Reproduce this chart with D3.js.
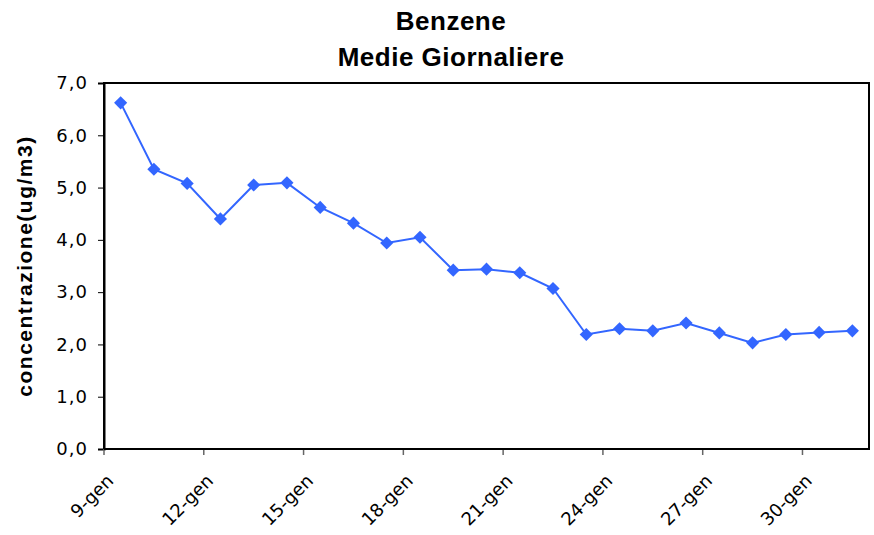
<!DOCTYPE html>
<html>
<head>
<meta charset="utf-8">
<script src="https://cdn.jsdelivr.net/npm/d3@7"></script>
<style>
  body { margin: 0; background: #fff; }
</style>
</head>
<body>
<div id="chart"></div>
<script>
(function() {
	var width = 874, height = 535;

	// giorni (9-gen ... 31-gen) e medie giornaliere di benzene
	var days = ["9-gen","10-gen","11-gen","12-gen","13-gen","14-gen","15-gen","16-gen",
		"17-gen","18-gen","19-gen","20-gen","21-gen","22-gen","23-gen","24-gen",
		"25-gen","26-gen","27-gen","28-gen","29-gen","30-gen","31-gen"];
	var values = [6.62, 5.35, 5.08, 4.40, 5.05, 5.09, 4.62, 4.32, 3.94, 4.05, 3.42, 3.44,
		3.37, 3.07, 2.19, 2.30, 2.26, 2.41, 2.22, 2.03, 2.19, 2.23, 2.26];
	var yTicks = [0, 1, 2, 3, 4, 5, 6, 7];
	var shownLabels = ["9-gen","12-gen","15-gen","18-gen","21-gen","24-gen","27-gen","30-gen"];

	var margin = {left: 104, top: 83, right: 5, bottom: 86};
	var plotW = width - margin.left - margin.right,
		plotH = height - margin.top - margin.bottom;

	var svg = d3.select("#chart")
		.append("svg")
		.attr("width", width)
		.attr("height", height)

	var g = svg.append("g")
		.attr("transform", "translate(" + margin.left + "," + margin.top + ")")

	var x = d3.scaleBand().domain(days).range([0, plotW])
	var y = d3.scaleLinear().domain([0, 7]).range([plotH, 0])

	var fmt = function(d) { return d3.format(".1f")(d).replace(".", ","); }

	// plot border
	g.append("rect")
		.attr("width", plotW)
		.attr("height", plotH)
		.attr("fill", "#fff")
		.attr("stroke", "#000")
		.attr("stroke-width", 2)

	// y axis
	var yAxis = g.append("g")
		.call(d3.axisLeft(y).tickValues(yTicks).tickFormat(fmt).tickSize(6).tickPadding(10))
	yAxis.select(".domain").attr("stroke", "#000").attr("stroke-width", 2)
	yAxis.selectAll(".tick line").attr("stroke", "#000")
	yAxis.selectAll("text")
		.attr("font-family", "DejaVu Sans, Verdana, sans-serif")
		.attr("font-size", 18)
		.attr("letter-spacing", 1)
		.attr("fill", "#000")

	// x axis: tick marks between categories every 3 days
	var boundaries = days.filter(function(d, i) { return i % 3 === 0; })
	var xg = g.append("g").attr("transform", "translate(0," + plotH + ")")
	xg.selectAll("line.tk")
		.data(boundaries)
		.enter().append("line")
		.attr("class", "tk")
		.attr("x1", function(d) { return x(d); })
		.attr("x2", function(d) { return x(d); })
		.attr("y1", 0)
		.attr("y2", 6)
		.attr("stroke", "#666")
		.attr("stroke-width", 1.5)
	xg.append("line")
		.attr("x1", 0).attr("x2", plotW)
		.attr("stroke", "#000").attr("stroke-width", 2)

	xg.selectAll("text.lbl")
		.data(shownLabels)
		.enter().append("text")
		.attr("class", "lbl")
		.attr("transform", function(d) {
			return "translate(" + (x(d) + x.bandwidth() / 2 - 6) + ",33) rotate(-45)";
		})
		.attr("text-anchor", "end")
		.attr("font-family", "DejaVu Sans, Verdana, sans-serif")
		.attr("font-size", 18)
		.attr("fill", "#000")
		.text(function(d) { return d; })

	// series line
	var line = d3.line()
		.x(function(d, i) { return x(days[i]) + x.bandwidth() / 2; })
		.y(function(d) { return y(d); })

	g.append("path")
		.datum(values)
		.attr("fill", "none")
		.attr("stroke", "#3366ff")
		.attr("stroke-width", 2)
		.attr("d", line)

	g.selectAll(".marker")
		.data(values)
		.enter().append("path")
		.attr("class", "marker")
		.attr("d", d3.symbol().type(d3.symbolDiamond2).size(110))
		.attr("transform", function(d, i) {
			return "translate(" + (x(days[i]) + x.bandwidth() / 2) + "," + y(d) + ")";
		})
		.attr("fill", "#3366ff")

	// titles
	svg.append("text")
		.attr("x", 451).attr("y", 30)
		.attr("text-anchor", "middle")
		.attr("font-family", "Liberation Sans, Arial, sans-serif")
		.attr("font-weight", "bold")
		.attr("font-size", 26)
		.attr("letter-spacing", 0.5)
		.text("Benzene")
	svg.append("text")
		.attr("x", 451).attr("y", 66)
		.attr("text-anchor", "middle")
		.attr("font-family", "Liberation Sans, Arial, sans-serif")
		.attr("font-weight", "bold")
		.attr("font-size", 26)
		.attr("letter-spacing", 0.5)
		.text("Medie Giornaliere")

	svg.append("text")
		.attr("transform", "translate(32," + (margin.top + plotH / 2) + ") rotate(-90)")
		.attr("text-anchor", "middle")
		.attr("font-family", "Liberation Sans, Arial, sans-serif")
		.attr("font-weight", "bold")
		.attr("font-size", 21)
		.attr("letter-spacing", 1.5)
		.text("concentrazione(ug/m3)")
})();
</script>
</body>
</html>
